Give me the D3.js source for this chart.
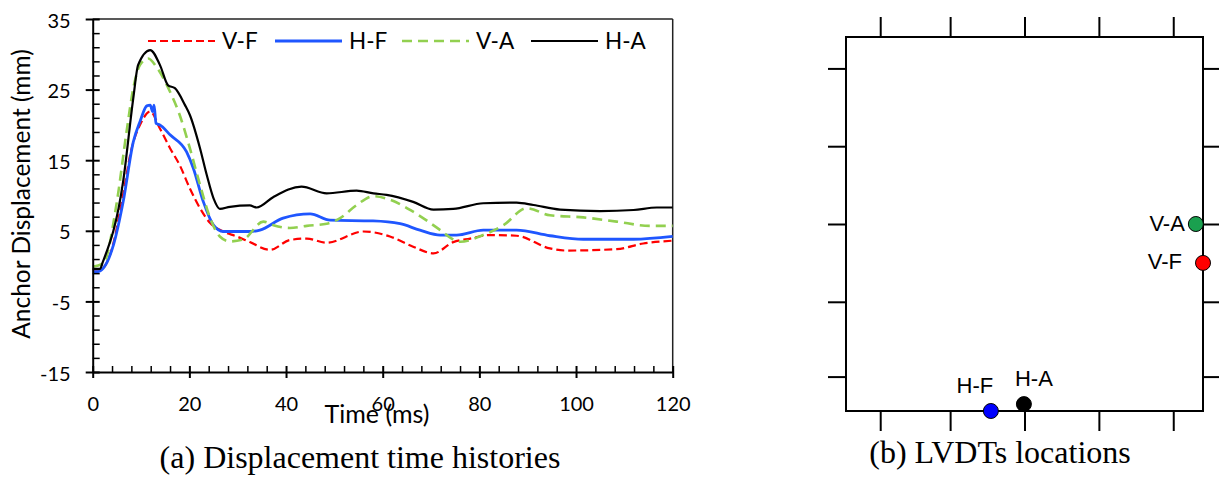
<!DOCTYPE html>
<html>
<head>
<meta charset="utf-8">
<script src="https://cdn.jsdelivr.net/npm/d3@7"></script>
<style>
  html, body { margin: 0; padding: 0; background: #fff; }
  svg { display: block; }
</style>
</head>
<body>
<svg id="fig" width="1219" height="478"></svg>
<script>
// ---- Panel (a): displacement time histories, [time ms, displacement mm] ----
const vfData = [[0,-0.5],[1.5,-0.5],[2.5,0],[4,2.5],[6,9],[8,16.5],[10,20.3],[11.9,21.9],[13.9,19.5],[16,16.7],[18,14.3],[20.1,11],[22.2,8.2],[24.3,6.1],[27,4.9],[29.8,4.2],[32.5,3.4],[36.7,2.3],[40.8,3.7],[44.3,3.9],[48.4,3.3],[56,4.9],[61.5,4.2],[66.3,2.75],[70.5,1.8],[74.6,3.4],[78.1,3.9],[82.2,4.4],[87.7,4.3],[94.6,2.5],[98.1,2.2],[108.4,2.4],[113.9,3.2],[120,3.6]];
const hfData = [[0,-0.8],[1,-0.8],[2.2,-0.3],[4.3,3],[6.3,9.1],[8.4,17.6],[9.8,20.5],[11.2,22.7],[11.9,22.8],[12.4,21.9],[12.7,22.8],[13.1,20.2],[13.9,20],[16,18.6],[19.4,16.2],[20.8,13.9],[22.9,9.1],[25,5.8],[27,4.9],[32.5,4.9],[34.6,5.1],[39.4,6.8],[45,7.4],[49.1,6.5],[58,6.4],[63.6,6],[67.7,5.1],[71.9,4.4],[75.3,4.4],[80.8,5.1],[87.7,5.1],[94.6,4.3],[101.5,3.8],[111.9,3.8],[120,4.2]];
const vaData = [[0,-0.1],[2.2,0.4],[5,9.1],[7,19],[8.4,25.2],[9.8,28.5],[11.5,29.4],[13.2,28.2],[16,24.7],[18,21.4],[20.1,16.7],[22.2,11.5],[24.3,6.8],[26.3,4.2],[28.4,3.5],[31.2,3.8],[35.3,6.3],[37.4,5.8],[40.8,5.4],[44.3,5.7],[48.4,6],[51.2,6.8],[54.6,8.65],[58.1,9.9],[61.5,9.4],[66.3,7.7],[71.9,5.1],[74.5,3.8],[76,3.45],[80.8,4.4],[85,5.8],[89.8,8.2],[94.6,7.2],[101.5,6.9],[108.4,6.3],[115.3,5.7],[120,5.7]];
const haData = [[0,-0.4],[1.5,-0.4],[2.1,0.6],[6.3,12],[8.4,23.8],[9.4,28.5],[11.9,30.6],[13.9,28.5],[15.6,25.6],[17,25.2],[19.1,22.8],[20.1,21.4],[22.2,16.7],[23.6,12.9],[25,9.6],[26.3,8.1],[28.4,8.4],[32.5,8.6],[33.9,8.3],[37.4,9.8],[43.2,11.25],[48.4,10.3],[54.6,10.7],[58.1,10.3],[60.8,10.1],[66.3,9.1],[70.5,8],[74.6,8.1],[80.8,8.9],[87.7,9],[91.2,8.65],[96.7,8],[105,7.8],[111.9,7.95],[116.7,8.3],[120,8.3]];

const seriesNames = ["V-F", "H-F", "V-A", "H-A"];
const seriesData = [vfData, hfData, vaData, haData];
const seriesColors = ["#ff0000", "#1f56ff", "#92d050", "#000000"];
const seriesDash = ["8,4", null, "10,6", null];
const seriesWidth = [2.2, 2.8, 2.6, 2.2];

const xTicksA = [0, 20, 40, 60, 80, 100, 120];
const yTicksA = [-15, -5, 5, 15, 25, 35];

// ---- Panel (b): LVDT locations (mm) on the specimen outline ----
const boxSize = [1200, 1250];
const boxXTicks = [115, 350, 600, 850, 1100];
const boxYTicks = [115, 365, 625, 885, 1145];
const sensorNames = ["V-A", "V-F", "H-F", "H-A"];
const sensorX = [1176, 1200, 487, 598];
const sensorY = [625, 495, 0, 23];
const sensorColors = ["#1aa04f", "#ff0000", "#0000ff", "#000000"];

const svg = d3.select("#fig");
const sansFont = "Lato, 'Open Sans', sans-serif";
const serifFont = "'Liberation Serif', 'Times New Roman', serif";

// ================= Panel (a) =================
const A = { left: 92.7, right: 672.7, top: 19, bottom: 372 };
const x = d3.scaleLinear().domain([0, 120]).range([A.left, A.right]);
const y = d3.scaleLinear().domain([-15, 35]).range([A.bottom, A.top]);

const gA = svg.append("g");

// frame: top and right edges
gA.append("line").attr("x1", A.left).attr("x2", A.right).attr("y1", A.top).attr("y2", A.top)
  .attr("stroke", "#222").attr("stroke-width", 1.5);
gA.append("line").attr("x1", A.right).attr("x2", A.right).attr("y1", A.top).attr("y2", A.bottom)
  .attr("stroke", "#222").attr("stroke-width", 1.5);

// data lines
const line = d3.line().x(d => x(d[0])).y(d => y(d[1])).curve(d3.curveMonotoneX);
seriesData.forEach((data, i) => {
  gA.append("path").datum(data)
    .attr("d", line)
    .attr("fill", "none")
    .attr("stroke", seriesColors[i])
    .attr("stroke-width", seriesWidth[i])
    .attr("stroke-dasharray", seriesDash[i])
    .attr("stroke-linejoin", "round");
});

// minor ticks (inside)
const xMinor = d3.range(0, 121, 4).filter(v => v % 20 !== 0);
const yMinor = d3.range(-15, 35.1, 2).filter(v => !yTicksA.includes(v));
gA.append("g").attr("transform", `translate(0,${A.bottom})`)
  .call(d3.axisTop(x).tickValues(xMinor).tickSize(6).tickFormat("").tickSizeOuter(0))
  .call(g => g.select(".domain").remove())
  .selectAll("line").attr("stroke", "#000").attr("stroke-width", 1.5);
gA.append("g").attr("transform", `translate(${A.left},0)`)
  .call(d3.axisRight(y).tickValues(yMinor).tickSize(7).tickFormat("").tickSizeOuter(0))
  .call(g => g.select(".domain").remove())
  .selectAll("line").attr("stroke", "#000").attr("stroke-width", 1.5);

// major axes (ticks crossing the axis line)
const plain = d => String(d);
const xAxisA = gA.append("g").attr("transform", `translate(0,${A.bottom})`)
  .call(d3.axisBottom(x).tickValues(xTicksA).tickFormat(plain).tickSize(6).tickSizeOuter(0));
xAxisA.selectAll(".tick line").attr("y1", -6);
xAxisA.selectAll(".tick text").attr("y", 38.5).attr("dy", null);
const yAxisA = gA.append("g").attr("transform", `translate(${A.left},0)`)
  .call(d3.axisLeft(y).tickValues(yTicksA).tickFormat(plain).tickSize(7).tickSizeOuter(0).tickPadding(15));
yAxisA.selectAll(".tick line").attr("x1", 7);
yAxisA.selectAll(".tick text").attr("dy", "0.4em");
[xAxisA, yAxisA].forEach(ax => {
  ax.select(".domain").attr("stroke", "#000").attr("stroke-width", 2);
  ax.selectAll(".tick line").attr("stroke", "#000").attr("stroke-width", 2);
  ax.selectAll("text").attr("fill", "#000").style("font-family", sansFont).style("font-size", "20px");
});

// axis titles
gA.append("text")
  .attr("transform", `translate(30,194) rotate(-90)`)
  .attr("text-anchor", "middle")
  .style("font-family", sansFont).style("font-size", "24.5px")
  .text("Anchor Displacement (mm)");
gA.append("text")
  .attr("x", 377).attr("y", 423)
  .attr("text-anchor", "middle")
  .style("font-family", sansFont).style("font-size", "25px")
  .text("Time (ms)");

// legend
const legendX = [148, 275, 402, 531];
const legend = gA.append("g");
seriesNames.forEach((name, i) => {
  const lg = legend.append("g").attr("transform", `translate(${legendX[i]},41)`);
  lg.append("line").attr("x1", 0).attr("x2", 67).attr("y1", 0).attr("y2", 0)
    .attr("stroke", seriesColors[i])
    .attr("stroke-width", seriesWidth[i])
    .attr("stroke-dasharray", seriesDash[i]);
  lg.append("text").attr("x", 74).attr("y", 8)
    .style("font-family", sansFont).style("font-size", "22.5px")
    .text(name);
});

// caption
svg.append("text").attr("x", 360).attr("y", 468).attr("text-anchor", "middle")
  .style("font-family", serifFont).style("font-size", "32px")
  .text("(a) Displacement time histories");

// ================= Panel (b) =================
const B = { left: 846, right: 1203, top: 37, bottom: 411 };
const bx = d3.scaleLinear().domain([0, boxSize[0]]).range([B.left, B.right]);
const by = d3.scaleLinear().domain([0, boxSize[1]]).range([B.bottom, B.top]);
const gB = svg.append("g");

const tickStyle = g => {
  g.select(".domain").remove();
  g.selectAll(".tick line").attr("stroke", "#000").attr("stroke-width", 2);
};
gB.append("g").attr("transform", `translate(0,${B.top})`)
  .call(d3.axisTop(bx).tickValues(boxXTicks).tickSize(20).tickFormat("")).call(tickStyle);
gB.append("g").attr("transform", `translate(0,${B.bottom})`)
  .call(d3.axisBottom(bx).tickValues(boxXTicks).tickSize(20).tickFormat("")).call(tickStyle);
gB.append("g").attr("transform", `translate(${B.left},0)`)
  .call(d3.axisLeft(by).tickValues(boxYTicks).tickSize(18).tickFormat("")).call(tickStyle);
gB.append("g").attr("transform", `translate(${B.right},0)`)
  .call(d3.axisRight(by).tickValues(boxYTicks).tickSize(18).tickFormat("")).call(tickStyle);

gB.append("rect")
  .attr("x", B.left).attr("y", B.top)
  .attr("width", B.right - B.left).attr("height", B.bottom - B.top)
  .attr("fill", "none").attr("stroke", "#000").attr("stroke-width", 2);

sensorNames.forEach((name, i) => {
  gB.append("circle")
    .attr("cx", bx(sensorX[i])).attr("cy", by(sensorY[i])).attr("r", 7.5)
    .attr("fill", sensorColors[i]).attr("stroke", "#000").attr("stroke-width", 1);
});

// sensor labels
const labelPos = [
  { dx: -11, dy: 7, anchor: "end" },
  { dx: -21, dy: 6, anchor: "end" },
  { dx: -16, dy: -18, anchor: "middle" },
  { dx: 10, dy: -18, anchor: "middle" }
];
sensorNames.forEach((name, i) => {
  gB.append("text")
    .attr("x", bx(sensorX[i]) + labelPos[i].dx)
    .attr("y", by(sensorY[i]) + labelPos[i].dy)
    .attr("text-anchor", labelPos[i].anchor)
    .style("font-family", "'Liberation Sans', Arial, sans-serif").style("font-size", "22px")
    .text(name);
});

svg.append("text").attr("x", 1000).attr("y", 463).attr("text-anchor", "middle")
  .style("font-family", serifFont).style("font-size", "32px")
  .text("(b) LVDTs locations");
</script>
</body>
</html>
